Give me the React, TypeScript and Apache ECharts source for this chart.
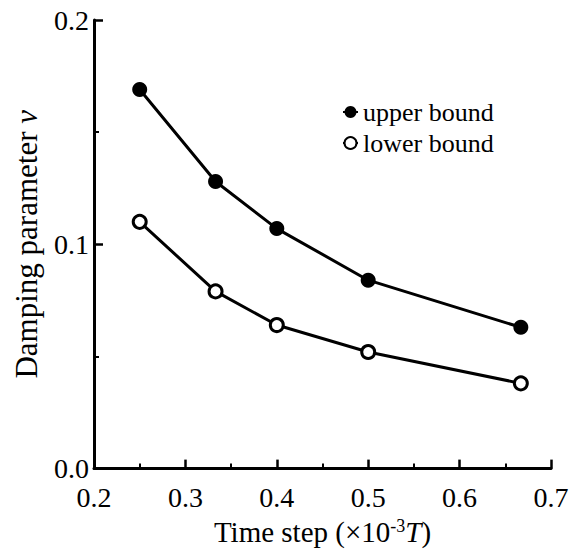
import React, { useEffect, useRef } from "react";
import * as echarts from "echarts";

const timeSteps = [0.25, 0.333, 0.4, 0.5, 0.667];
const upperBound = [0.169, 0.128, 0.107, 0.084, 0.063];
const lowerBound = [0.11, 0.079, 0.064, 0.052, 0.038];
const seriesNames = ["upper bound", "lower bound"];

const FONT = "'Liberation Serif', 'Times New Roman', serif";

export default function App() {
  const ref = useRef<HTMLDivElement>(null);
  useEffect(() => {
    if (!ref.current) return;
    const chart = echarts.init(ref.current, null, { renderer: "svg" });
    const axisCommon = {
      type: "value" as const,
      axisLine: { show: true, lineStyle: { color: "#000", width: 3 } },
      axisTick: { show: true, inside: true, length: 9, lineStyle: { color: "#000", width: 2.5 } },
      minorTick: { show: true, splitNumber: 2, length: 5, lineStyle: { color: "#000", width: 2 } },
      splitLine: { show: false },
      axisLabel: {
        color: "#000",
        fontFamily: FONT,
        fontSize: 28,
        formatter: (v: number) => v.toFixed(1),
      },
    };
    chart.setOption({
      animation: false,
      backgroundColor: "#fff",
      grid: { left: 94, right: 21, top: 20, bottom: 79, containLabel: false },
      legend: {
        orient: "vertical",
        left: 337,
        top: 94,
        itemWidth: 15,
        itemHeight: 15,
        itemGap: 5,
        textStyle: { color: "#000", fontFamily: FONT, fontSize: 26 },
        data: seriesNames,
      },
      xAxis: {
        ...axisCommon,
        min: 0.2,
        max: 0.7,
        interval: 0.1,
        axisLabel: { ...axisCommon.axisLabel, margin: 15 },
        name: "Time step (×10{sup|-3}{it|T})",
        nameLocation: "middle",
        nameGap: 44,
        nameTextStyle: {
          color: "#000",
          fontFamily: FONT,
          fontSize: 29,
          rich: {
            sup: { fontFamily: FONT, fontSize: 18, color: "#000", verticalAlign: "top", padding: [0, 0, 12, 0] },
            it: { fontFamily: FONT, fontSize: 29, color: "#000", fontStyle: "italic" },
          },
        },
      },
      yAxis: {
        ...axisCommon,
        min: 0,
        max: 0.2,
        interval: 0.1,
        axisLabel: { ...axisCommon.axisLabel, margin: 5 },
        name: "Damping parameter {it|v}",
        nameLocation: "middle",
        nameGap: 52,
        nameRotate: 90,
        nameTextStyle: {
          color: "#000",
          fontFamily: FONT,
          fontSize: 31,
          rich: {
            it: { fontFamily: FONT, fontSize: 31, color: "#000", fontStyle: "italic" },
          },
        },
      },
      series: [
        {
          name: seriesNames[0],
          type: "line",
          data: timeSteps.map((x, i) => [x, upperBound[i]]),
          symbol: "circle",
          symbolSize: 15,
          lineStyle: { color: "#000", width: 3 },
          itemStyle: { color: "#000", borderColor: "#000", borderWidth: 0 },
          z: 3,
        },
        {
          name: seriesNames[1],
          type: "line",
          data: timeSteps.map((x, i) => [x, lowerBound[i]]),
          symbol: "circle",
          symbolSize: 13,
          lineStyle: { color: "#000", width: 3 },
          itemStyle: { color: "#fff", borderColor: "#000", borderWidth: 3 },
          z: 3,
        },
      ],
    });
    return () => chart.dispose();
  }, []);
  return (
    <div
      ref={ref}
      style={{ position: "absolute", left: 0, top: 0, width: 572, height: 551, background: "#fff" }}
    />
  );
}
